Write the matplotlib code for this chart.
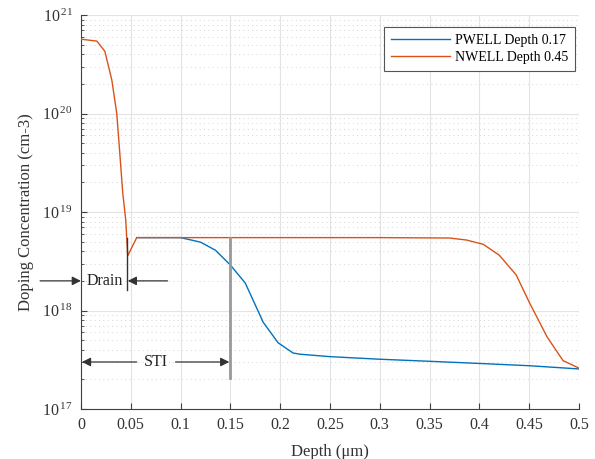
import matplotlib
matplotlib.use("Agg")
import matplotlib.pyplot as plt
from matplotlib.ticker import LogLocator, FuncFormatter, FixedFormatter, FixedLocator
import numpy as np

plt.rcParams['font.family'] = ['Liberation Serif', 'DejaVu Serif']
plt.rcParams['mathtext.fontset'] = 'custom'
plt.rcParams['mathtext.rm'] = 'Liberation Serif'
plt.rcParams['mathtext.it'] = 'Liberation Serif:italic'

# PWELL data (depth um, concentration cm-3)
pwell_x = [0.056, 0.08, 0.1, 0.12, 0.135, 0.15, 0.165, 0.183, 0.198, 0.213, 0.22,
           0.25, 0.3, 0.35, 0.4, 0.45, 0.5]
pwell_y = [5.5e18, 5.5e18, 5.5e18, 4.95e18, 4.1e18, 2.9e18, 1.9e18, 7.6e17, 4.7e17,
           3.7e17, 3.6e17, 3.4e17, 3.2e17, 3.05e17, 2.9e17, 2.75e17, 2.55e17]

# NWELL data
nwell_x = [0.0, 0.016, 0.024, 0.031, 0.036, 0.039, 0.042, 0.045, 0.047, 0.056,
           0.1, 0.2, 0.3, 0.37, 0.387, 0.404, 0.42, 0.437, 0.45, 0.468, 0.484, 0.5]
nwell_y = [5.7e20, 5.45e20, 4.3e20, 2.2e20, 1.0e20, 4.0e19, 1.56e19, 8.3e18, 3.6e18, 5.5e18,
           5.5e18, 5.5e18, 5.5e18, 5.45e18, 5.2e18, 4.7e18, 3.65e18, 2.3e18, 1.22e18,
           5.4e17, 3.1e17, 2.6e17]

xticks = [0, 0.05, 0.1, 0.15, 0.2, 0.25, 0.3, 0.35, 0.4, 0.45, 0.5]
xticklabels = ['0', '0.05', '0.1', '0.15', '0.2', '0.25', '0.3', '0.35', '0.4', '0.45', '0.5']

drain_edge = 0.046
sti_edge = 0.15
flat_level = 5.5e18

fig = plt.figure(figsize=(5.95, 4.59), dpi=100)
ax = fig.add_axes([0.136, 0.109, 0.837, 0.858])

blue = '#0072BD'
orange = '#D95319'
axcol = '#404040'

ax.plot(pwell_x, pwell_y, color=blue, lw=1.0, label='PWELL Depth 0.17', zorder=3)
ax.plot(nwell_x, nwell_y, color=orange, lw=1.0, label='NWELL Depth 0.45', zorder=3.1)

ax.set_yscale('log')
ax.set_xlim(0, 0.5)
ax.set_ylim(1e17, 1e21)

ax.xaxis.set_major_locator(FixedLocator(xticks))
ax.xaxis.set_major_formatter(FixedFormatter(xticklabels))
ax.yaxis.set_major_locator(LogLocator(base=10, numticks=10))
ax.yaxis.set_minor_locator(LogLocator(base=10, subs=np.arange(2, 10), numticks=20))
ax.yaxis.set_major_formatter(FuncFormatter(lambda v, p: r'$10^{\,%d}$' % int(round(np.log10(v)))))

ax.grid(True, which='major', color='#e3e3e3', lw=0.8, zorder=0)
ax.grid(True, which='minor', axis='y', color='#d3d3d3', lw=0.7, ls=(0, (1, 3.5)), zorder=0)
ax.set_axisbelow(True)

for s in ['top', 'right']:
    ax.spines[s].set_visible(False)
for s in ['left', 'bottom']:
    ax.spines[s].set_color(axcol)
    ax.spines[s].set_linewidth(0.8)

ax.tick_params(which='both', direction='in', colors=axcol, labelcolor='#333333', labelsize=11.5)
ax.tick_params(which='major', length=4)
ax.tick_params(which='minor', length=2)
ax.tick_params(axis='x', pad=6)
ax.tick_params(axis='y', pad=6)

ax.set_xlabel('Depth (μm)', fontsize=12, color='#333333', labelpad=8)
ax.set_ylabel('Doping Concentration (cm-3)', fontsize=12, color='#333333', labelpad=6)

# Annotation vertical lines
ax.plot([drain_edge, drain_edge], [flat_level, 1.6e18], color='#333333', lw=1.0, zorder=4)
ax.plot([sti_edge, sti_edge], [flat_level, 2.07e17], color='#999999', lw=2.0, zorder=4)

arrow = dict(arrowstyle='-|>', color='#333333', lw=0.9, mutation_scale=13, shrinkA=0, shrinkB=0)
y_drain = 2.0e18
ax.annotate('', xy=(0.0, y_drain), xytext=(-0.041, y_drain), arrowprops=arrow, annotation_clip=False)
ax.annotate('', xy=(0.047, y_drain), xytext=(0.087, y_drain), arrowprops=arrow, annotation_clip=False)
ax.text(0.024, y_drain, 'Drain', ha='center', va='center', fontsize=11.5, color='#222222')

y_sti = 3.0e17
ax.annotate('', xy=(0.001, y_sti), xytext=(0.056, y_sti), arrowprops=arrow, annotation_clip=False)
ax.annotate('', xy=(0.149, y_sti), xytext=(0.095, y_sti), arrowprops=arrow, annotation_clip=False)
ax.text(0.075, y_sti, 'STI', ha='center', va='center', fontsize=11.5, color='#222222')

leg = ax.legend(loc='upper right', bbox_to_anchor=(0.993, 0.97), fontsize=10, frameon=True,
                fancybox=False, edgecolor='#555555', framealpha=1, handlelength=4.2,
                borderpad=0.5, labelspacing=0.3, handletextpad=0.4, borderaxespad=0)
leg.get_frame().set_linewidth(0.8)

fig.savefig('out.png', dpi=100)
